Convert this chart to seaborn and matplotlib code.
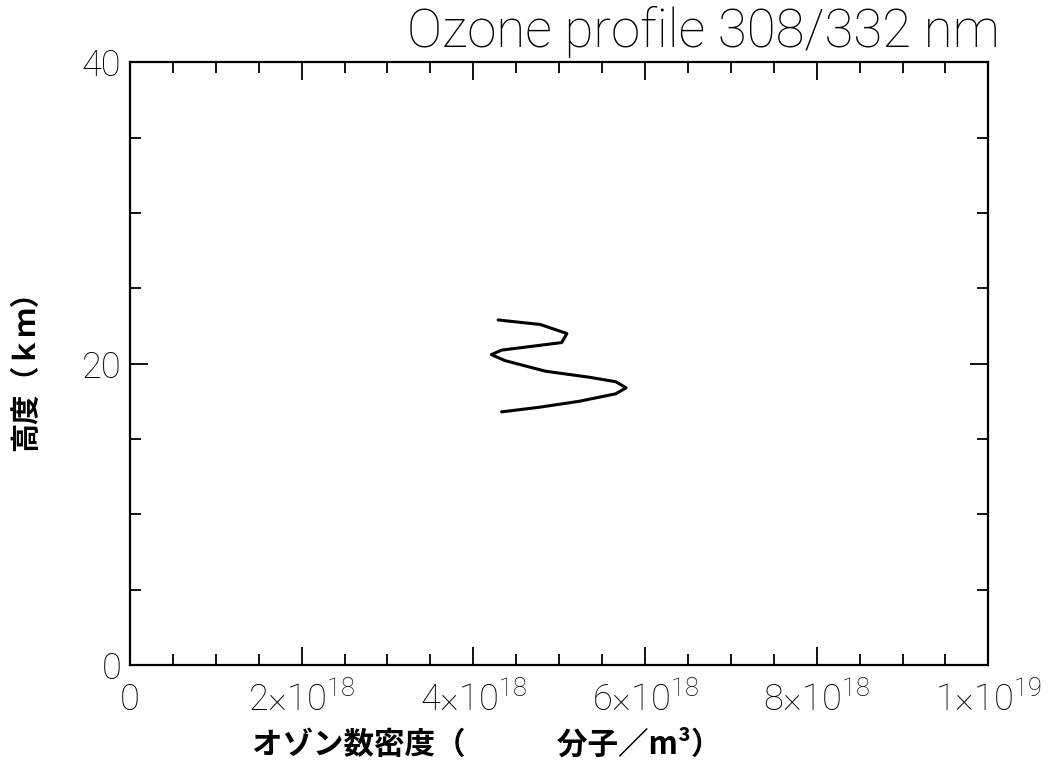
import numpy as np
import pandas as pd
import matplotlib
matplotlib.use("Agg")
import matplotlib.pyplot as plt
import seaborn as sns
from matplotlib.ticker import MultipleLocator, FuncFormatter

# ── data ─────────────────────────────────────────────────
density = [4.29, 4.78, 5.09, 5.03, 4.33, 4.21, 4.37, 4.84, 5.35, 5.66,
           5.78, 5.66, 5.23, 4.76, 4.33]            # ×1e18 molecules/m³
height = [22.9, 22.6, 22.0, 21.4, 20.9, 20.6, 20.2, 19.5, 19.1, 18.8,
          18.4, 18.0, 17.5, 17.1, 16.8]              # km

df = pd.DataFrame({"density": np.array(density) * 1e18, "height": height})

sns.set_style("ticks")
plt.rcParams["font.family"] = ["Roboto", "DejaVu Sans", "Noto Sans CJK JP"]
plt.rcParams["font.weight"] = "light"
plt.rcParams["mathtext.fontset"] = "custom"
plt.rcParams["mathtext.rm"] = "Roboto:light"
plt.rcParams["mathtext.it"] = "Roboto:light"
plt.rcParams["mathtext.default"] = "rm"

fig = plt.figure(figsize=(10.56, 7.6), dpi=100)
ax = fig.add_axes([0.123, 0.125, 0.813, 0.793])

sns.lineplot(data=df, x="density", y="height", sort=False, estimator=None,
             color="black", linewidth=2.2, ax=ax)

ax.set_xlim(0, 1e19)
ax.set_ylim(0, 40)
ax.xaxis.set_major_locator(MultipleLocator(2e18))
ax.xaxis.set_minor_locator(MultipleLocator(0.5e18))
ax.yaxis.set_major_locator(MultipleLocator(20))
ax.yaxis.set_minor_locator(MultipleLocator(5))


def fmt_x(v, pos):
    if abs(v) < 1:
        return "0"
    if v < 0:
        return ""
    exp = int(np.floor(np.log10(v) + 1e-9))
    mant = v / 10 ** exp
    return f"{mant:g}×10$^{{\\mathregular{{{exp}}}}}$"


ax.xaxis.set_major_formatter(FuncFormatter(fmt_x))
ax.yaxis.set_major_formatter(FuncFormatter(lambda v, p: f"{v:g}"))

ax.tick_params(which="both", direction="in", top=True, right=True,
               width=1.3, labelsize=26, colors="black")
ax.tick_params(which="major", length=13)
ax.tick_params(which="minor", length=8)
ax.tick_params(axis="x", pad=12)
ax.tick_params(axis="y", pad=6)
for s in ax.spines.values():
    s.set_linewidth(1.6)
    s.set_color("black")

cjk = ["Noto Sans CJK JP", "DejaVu Sans"]
ax.set_xlabel("オゾン数密度（　　　分子／m³）", family=cjk, color="black",
              fontweight="bold", fontsize=22)
ax.xaxis.set_label_coords(0.416, -0.105)
ax.set_ylabel("高度（ｋｍ）", family=cjk, color="black",
              fontweight="bold", fontsize=21)
ax.yaxis.set_label_coords(-0.105, 0.5)

fig.text(0.947, 0.938, "Ozone profile 308/332 nm", ha="right", va="baseline",
         fontsize=38, color="black")

fig.savefig("out.png", dpi=100, facecolor="white")
